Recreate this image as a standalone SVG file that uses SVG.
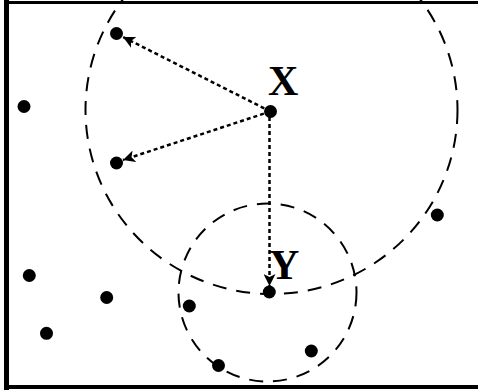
<svg xmlns="http://www.w3.org/2000/svg" width="478" height="390" viewBox="0 0 478 390">
<defs>
<marker id="ah" viewBox="0 0 12 12" refX="12" refY="6" markerWidth="12" markerHeight="12" markerUnits="userSpaceOnUse" orient="auto">
<path d="M0,0 L12,6 L0,12 L3,6 Z" fill="#000"/>
</marker>
</defs>
<style>
.frame{stroke:#000;fill:none}
.ring{fill:none;stroke:#000;stroke-width:2;stroke-dasharray:14 10}
.dot{fill:#000}
.arrow{fill:none;stroke:#000;stroke-width:2.5;stroke-dasharray:4 3;marker-end:url(#ah)}
.lbl{font-family:"Liberation Serif","DejaVu Serif",serif;font-size:42px;font-weight:bold;fill:#000}
</style>
<rect width="478" height="390" fill="#fff"/>
<g id="frame">
<line class="frame" x1="6.5" y1="0" x2="6.5" y2="390" stroke-width="5"/>
<line class="frame" x1="4" y1="2.5" x2="478" y2="2.5" stroke-width="3"/>
<line class="frame" x1="4" y1="387" x2="478" y2="387" stroke-width="4"/>
</g>
<g id="rings">
<ellipse class="ring" cx="271.5" cy="110" rx="186" ry="184"/>
<circle class="ring" cx="267.5" cy="292.5" r="89"/>
</g>
<g id="connectors">
<line class="arrow" x1="270.5" y1="111.5" x2="123" y2="37"/>
<line class="arrow" x1="270.5" y1="111.5" x2="123" y2="160"/>
<line class="arrow" x1="269.5" y1="117" x2="269.5" y2="286"/>
</g>
<g id="node-X"><circle class="dot" cx="270.5" cy="111.5" r="6.5"/><text class="lbl" x="268" y="95">X</text></g>
<g id="node-Y"><circle class="dot" cx="269.3" cy="292" r="6.5"/><text class="lbl" x="269" y="279">Y</text></g>
<g id="node-a"><circle class="dot" cx="116.5" cy="33.5" r="6.5"/></g>
<g id="node-b"><circle class="dot" cx="116.5" cy="163" r="6.5"/></g>
<g id="node-c"><circle class="dot" cx="24" cy="106.5" r="6.5"/></g>
<g id="node-d"><circle class="dot" cx="29.3" cy="275.5" r="6.5"/></g>
<g id="node-e"><circle class="dot" cx="106.7" cy="297.5" r="6.5"/></g>
<g id="node-f"><circle class="dot" cx="46.5" cy="333.3" r="6.5"/></g>
<g id="node-g"><circle class="dot" cx="189.3" cy="306" r="6.5"/></g>
<g id="node-h"><circle class="dot" cx="218.5" cy="365.5" r="6.5"/></g>
<g id="node-i"><circle class="dot" cx="311.3" cy="351" r="6.5"/></g>
<g id="node-j"><circle class="dot" cx="437.3" cy="215" r="6.5"/></g>
</svg>
